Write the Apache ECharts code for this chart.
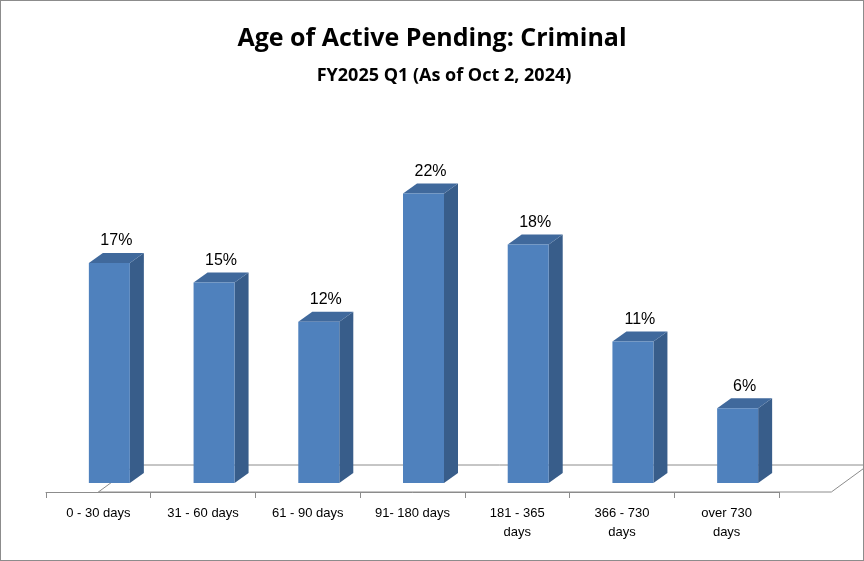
<!DOCTYPE html>
<html><head><meta charset="utf-8">
<script src="https://cdn.jsdelivr.net/npm/echarts@6/dist/echarts.min.js"></script>
<style>html,body{margin:0;padding:0;background:#fff}#c{width:862px;height:559px;border:1px solid #8c8c8c}</style>
</head><body><div id="c"></div>
<script>
var categories = ['0 - 30 days','31 - 60 days','61 - 90 days','91- 180 days','181 - 365\ndays','366 - 730\ndays','over 730\ndays'];
var values = [16.8, 15.3, 12.3, 22.1, 18.2, 10.8, 5.7];
var labels = ['17%','15%','12%','22%','18%','11%','6%'];

var chart = echarts.init(document.getElementById('c'));
function renderItem(params, api){
  var i = api.value(0), v = api.value(1);
  var base = api.coord([i,0]), top = api.coord([i,v]);
  var bw = 41, dx = 14, dy = -10, sx = 11, sy = -9;
  var x0 = base[0] + sx - bw/2, x1 = x0 + bw, yb = base[1] + sy, yt = top[1] + sy;
  var children = [];
  if (params.dataIndex === 0) {
    var L = api.coord([-0.5,0]), R = api.coord([6.5,0]);
    children.push({type:'polygon',shape:{points:[[L[0],L[1]],[R[0],R[1]],[R[0]+37,R[1]-27],[L[0]+37,L[1]-27]]},
      style:{fill:'none',stroke:'#8c8c8c',lineWidth:1}, z2:0});
  }
  children.push({type:'polygon',shape:{points:[[x1,yb],[x1+dx,yb+dy],[x1+dx,yt+dy],[x1,yt]]},style:{fill:'#385D8A'},z2:2});
  children.push({type:'polygon',shape:{points:[[x0,yt],[x1,yt],[x1+dx,yt+dy],[x0+dx,yt+dy]]},style:{fill:'#40699C'},z2:2});
  children.push({type:'rect',shape:{x:x0,y:yt,width:bw,height:yb-yt},style:{fill:'#4F81BD'},z2:3});
  children.push({type:'text',style:{text:labels[params.dataIndex],x:(x0+x1+dx)/2,y:yt+dy-4,align:'center',verticalAlign:'bottom',
    font:'16px "Liberation Sans", Arial',fill:'#000'},z2:4});
  return {type:'group',children:children};
}
chart.setOption({
  animation:false,
  title:[{text:'Age of Active Pending: Criminal',left:'center',top:20,textStyle:{fontSize:25,fontWeight:'bold',color:'#000',fontFamily:'Open Sans'}},
         {text:'FY2025 Q1 (As of Oct 2, 2024)',left:438,top:61,textAlign:'center',textStyle:{fontSize:18,fontWeight:'bold',color:'#000',fontFamily:'Open Sans'}}],
  grid:{left:45,right:84,top:98,bottom:68},
  xAxis:{type:'category',data:categories,axisLine:{lineStyle:{color:'#8c8c8c'}},axisTick:{show:true,length:6,lineStyle:{color:'#8c8c8c'}},
    axisLabel:{color:'#000',fontSize:13,fontFamily:'Liberation Sans',lineHeight:19,margin:12}},
  yAxis:{type:'value',min:0,max:30,show:false,splitLine:{show:false}},
  series:[{type:'custom',renderItem:renderItem,data:values.map(function(v,i){return [i,v];}),encode:{x:0,y:1}}]
});
</script></body></html>
